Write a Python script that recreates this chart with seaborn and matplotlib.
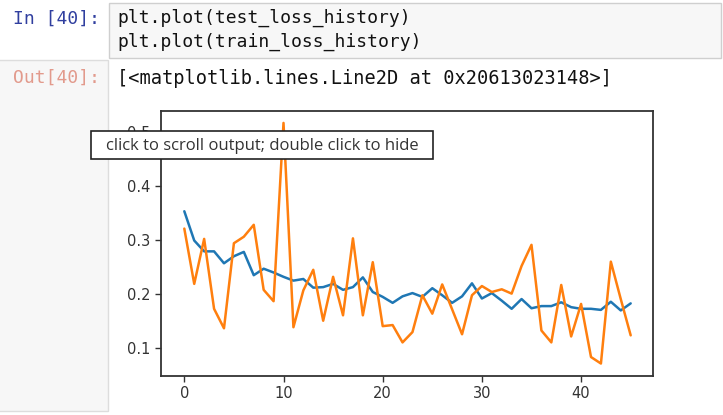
import numpy as np
import pandas as pd
import matplotlib
matplotlib.use("Agg")
import matplotlib.pyplot as plt
from matplotlib.patches import Rectangle
import seaborn as sns

# ---- data ----
test_loss_history = [0.353, 0.299, 0.279, 0.279, 0.257, 0.270, 0.278, 0.235, 0.247, 0.240,
                     0.232, 0.225, 0.228, 0.212, 0.213, 0.219, 0.208, 0.213, 0.231, 0.204,
                     0.195, 0.184, 0.196, 0.202, 0.195, 0.211, 0.198, 0.184, 0.196, 0.220,
                     0.192, 0.202, 0.188, 0.173, 0.191, 0.174, 0.178, 0.178, 0.185, 0.176,
                     0.173, 0.173, 0.171, 0.186, 0.170, 0.183]
train_loss_history = [0.321, 0.219, 0.302, 0.173, 0.137, 0.294, 0.306, 0.328, 0.208, 0.187,
                      0.516, 0.139, 0.207, 0.245, 0.151, 0.232, 0.161, 0.303, 0.161, 0.259,
                      0.141, 0.143, 0.111, 0.130, 0.198, 0.164, 0.218, 0.172, 0.126, 0.198,
                      0.215, 0.204, 0.209, 0.201, 0.252, 0.291, 0.133, 0.111, 0.217, 0.122,
                      0.182, 0.084, 0.072, 0.260, 0.191, 0.124]
series_names = ["test_loss_history", "train_loss_history"]
series_colors = ["#1f77b4", "#ff7f0e"]
y_ticks = [0.1, 0.2, 0.3, 0.4, 0.5]
x_ticks = [0, 10, 20, 30, 40]

code_lines = ["plt.plot(test_loss_history)", "plt.plot(train_loss_history)"]
in_prompt = "In [40]:"
out_prompt = "Out[40]:"
out_text = "[<matplotlib.lines.Line2D at 0x20613023148>]"
tooltip_text = "click to scroll output; double click to hide"

df = pd.concat([
    pd.DataFrame({"epoch": np.arange(len(test_loss_history)), "loss": test_loss_history,
                  "series": series_names[0]}),
    pd.DataFrame({"epoch": np.arange(len(train_loss_history)), "loss": train_loss_history,
                  "series": series_names[1]}),
], ignore_index=True)

sns.set_theme(style="ticks", rc={"axes.edgecolor": "#333333", "xtick.color": "#333333",
                                 "ytick.color": "#333333"})
plt.rcParams["font.family"] = ["DejaVu Sans"]

W, H = 723, 415
fig = plt.figure(figsize=(W / 100, H / 100), dpi=100)
fig.patch.set_facecolor("white")

# background (notebook) layer in pixel coordinates
bg = fig.add_axes([0, 0, 1, 1], zorder=0)
bg.set_xlim(0, W)
bg.set_ylim(H, 0)
bg.axis("off")
# code cell
bg.add_patch(Rectangle((109, 3), 612, 55, facecolor="#f7f7f7", edgecolor="#cfcfcf", lw=1))
# output prompt hover area
bg.add_patch(Rectangle((-5, 60), 113, 351, facecolor="#f7f7f7", edgecolor="#dddddd", lw=1))

mono = "DejaVu Sans Mono"
bg.text(100, 19, in_prompt, family=mono, fontsize=13, color="#303F9F", ha="right", va="center")
bg.text(100, 78, out_prompt, family=mono, fontsize=13, color="#e29a8c", ha="right", va="center")
for i, line in enumerate(code_lines):
    bg.text(117, 18 + 24 * i, line, family=mono, fontsize=13, color="#111111",
            ha="left", va="center")
bg.text(117, 78, out_text, family=mono, fontsize=13.4, color="#111111", ha="left", va="center")

# chart
L, R, T, B = 161, 653, 111, 376
ax = fig.add_axes([L / W, (H - B) / H, (R - L) / W, (B - T) / H], zorder=2)
sns.lineplot(data=df, x="epoch", y="loss", hue="series", hue_order=series_names,
             palette=series_colors, ax=ax, legend=False, linewidth=1.8)
ax.set_xlim(-2.35, 47.25)
ax.set_ylim(0.049, 0.538)
ax.set_xticks(x_ticks)
ax.set_yticks(y_ticks)
ax.set_xlabel("")
ax.set_ylabel("")
ax.tick_params(labelsize=10.5, length=4, width=1, colors="#333333")
for s in ax.spines.values():
    s.set_visible(True)
    s.set_linewidth(1.3)
    s.set_color("#333333")

# tooltip overlay
ov = fig.add_axes([0, 0, 1, 1], zorder=5)
ov.set_xlim(0, W)
ov.set_ylim(H, 0)
ov.axis("off")
ov.patch.set_alpha(0)
ov.add_patch(Rectangle((91, 131), 342, 28, facecolor="white", edgecolor="#222222", lw=1.2))
ov.text(262, 145.5, tooltip_text, family="Open Sans", fontsize=12, color="#333333",
        ha="center", va="center")

fig.savefig("out.png", dpi=100)
